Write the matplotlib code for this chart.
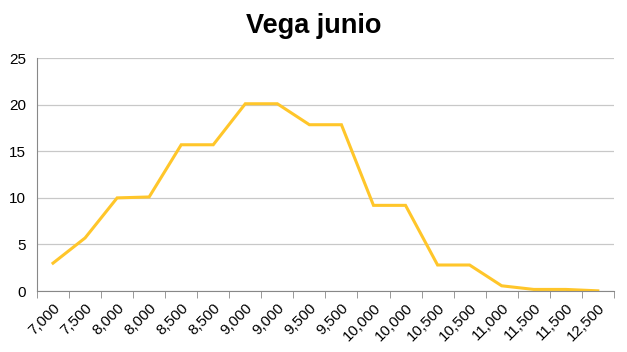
import matplotlib.pyplot as plt
import numpy as np

plt.rcParams['font.family'] = ['Liberation Sans', 'DejaVu Sans']

# Datos
etiquetas = ['7,000', '7,500', '8,000', '8,000', '8,500', '8,500', '9,000', '9,000',
             '9,500', '9,500', '10,000', '10,000', '10,500', '10,500', '11,000',
             '11,500', '11,500', '12,500']
valores = [3.0, 5.7, 10.0, 10.1, 15.7, 15.7, 20.1, 20.1, 17.85, 17.85,
           9.2, 9.2, 2.8, 2.8, 0.57, 0.18, 0.18, 0.03]

fig = plt.figure(figsize=(6.27, 3.52), dpi=100)
ax = fig.add_axes([0.059, 0.173, 0.920, 0.662])

x = np.arange(len(valores))
ax.plot(x, valores, color='#FFC62A', linewidth=2.2, solid_joinstyle='miter')

ax.set_xlim(-0.5, len(valores) - 0.5)
ax.set_ylim(0, 25)
ax.set_yticks([0, 5, 10, 15, 20, 25])
ax.tick_params(axis='y', length=0, labelsize=11, pad=8)

ax.set_xticks(x)
ax.set_xticklabels(etiquetas, rotation=45, ha='right', rotation_mode='anchor', fontsize=11)
ax.tick_params(axis='x', which='major', length=0, pad=7)
ax.set_xticks(np.arange(len(valores) + 1) - 0.5, minor=True)
ax.tick_params(axis='x', which='minor', length=5, color='#888888')

ax.grid(axis='y', color='#C8C8C8', linewidth=0.9)
ax.set_axisbelow(True)
for s in ['top', 'right']:
    ax.spines[s].set_visible(False)
ax.spines['left'].set_color('#888888')
ax.spines['bottom'].set_color('#888888')

fig.suptitle('Vega junio', fontsize=19.5, fontweight='bold', y=0.962)

fig.savefig('out.png', dpi=100)
